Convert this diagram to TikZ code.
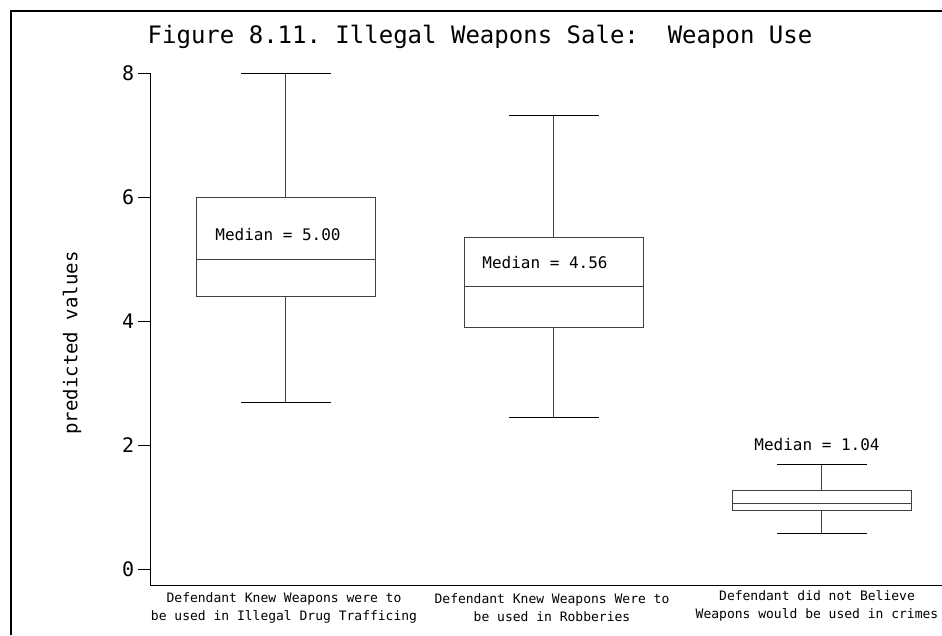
\documentclass[tikz,border=0pt]{standalone}
\usepackage{fontspec}
\setmonofont{DejaVu Sans Mono}
\usepackage{tikz}

\begin{document}
\begin{tikzpicture}[x=1pt, y=-1pt, font=\ttfamily, line width=.9pt]
\useasboundingbox (0,0) rectangle (942,635);

\draw[line width=2pt] (11,635) -- (11,11) -- (942,11);
\node (T) at (480,37) {\fontsize{24}{24}\selectfont Figure 8.11. Illegal Weapons Sale:~~Weapon Use};

\draw (150,73) -- (150,585) -- (942,585);
\node [rotate=90, font=\fontsize{19}{19}\selectfont\ttfamily] (Y) at (72,343) {predicted values};

\begin{scope}[shift={(0,569)}, y=62pt]
\draw (138,0) -- (150,0) node[pos=0, left, font=\fontsize{20}{20}\selectfont\ttfamily] (t0) {0};
\draw (138,2) -- (150,2) node[pos=0, left, font=\fontsize{20}{20}\selectfont\ttfamily] (t2) {2};
\draw (138,4) -- (150,4) node[pos=0, left, font=\fontsize{20}{20}\selectfont\ttfamily] (t4) {4};
\draw (138,6) -- (150,6) node[pos=0, left, font=\fontsize{20}{20}\selectfont\ttfamily] (t6) {6};
\draw (138,8) -- (150,8) node[pos=0, left, font=\fontsize{20}{20}\selectfont\ttfamily] (t8) {8};

% drug trafficking
\draw[black!75] (196,4.39) rectangle (375,6.00);
\draw[black!75] (196,5.00) -- (375,5.00);
\draw[black!75] (285.5,6.00) -- (285.5,8.00);
\draw[black!75] (285.5,4.39) -- (285.5,2.68);
\draw (241,8.00) -- (331,8.00);
\draw (241,2.68) -- (331,2.68);
\node [font=\fontsize{16}{16}\selectfont\ttfamily] (M1) at (278,5.39) {Median = 5.00};

% robberies
\draw[black!75] (464,3.90) rectangle (643,5.35);
\draw[black!75] (464,4.56) -- (643,4.56);
\draw[black!75] (553.5,5.35) -- (553.5,7.31);
\draw[black!75] (553.5,3.90) -- (553.5,2.45);
\draw (509,7.31) -- (599,7.31);
\draw (509,2.45) -- (599,2.45);
\node [font=\fontsize{16}{16}\selectfont\ttfamily] (M2) at (545,4.94) {Median = 4.56};

% no crimes
\draw[black!75] (732,0.94) rectangle (911,1.26);
\draw[black!75] (732,1.05) -- (911,1.05);
\draw[black!75] (821.5,1.26) -- (821.5,1.69);
\draw[black!75] (821.5,0.94) -- (821.5,0.58);
\draw (777,1.69) -- (867,1.69);
\draw (777,0.58) -- (867,0.58);
\node [font=\fontsize{16}{16}\selectfont\ttfamily] (M3) at (817,2.0) {Median = 1.04};
\end{scope}

\node [align=center, font=\fontsize{13}{18}\selectfont\ttfamily] (A) at (284,608) {Defendant Knew Weapons were to\\be used in Illegal Drug Trafficing};
\node [align=center, font=\fontsize{13}{18}\selectfont\ttfamily] (B) at (552,608) {Defendant Knew Weapons Were to\\be used in Robberies};
\node [align=center, font=\fontsize{13}{18}\selectfont\ttfamily] (C) at (817,606) {Defendant did not Believe\\Weapons would be used in crimes};
\end{tikzpicture}
\end{document}
